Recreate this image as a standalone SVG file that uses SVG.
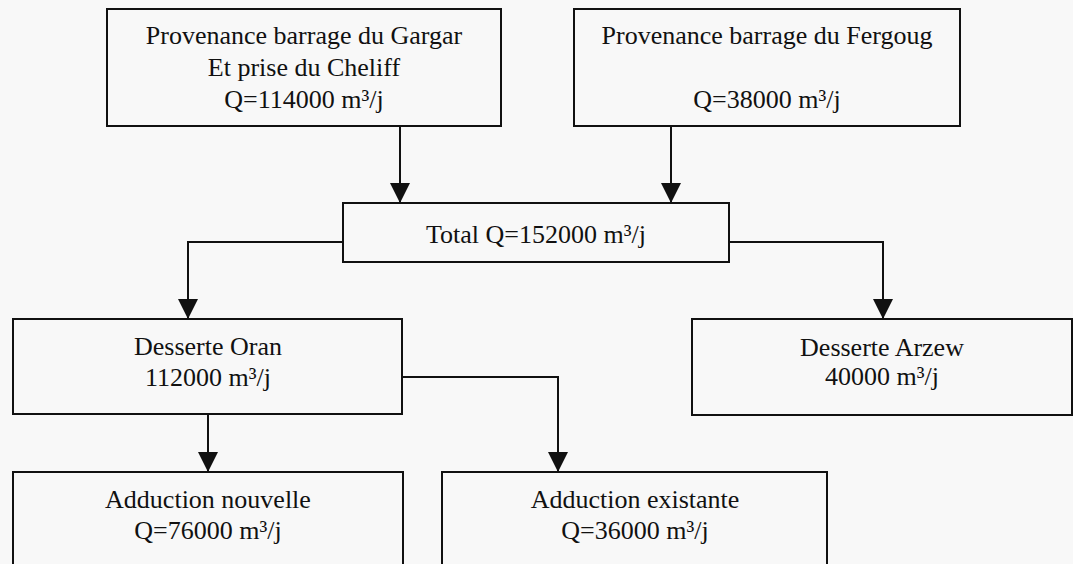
<svg xmlns="http://www.w3.org/2000/svg" width="1073" height="564" viewBox="0 0 1073 564">
  <style>
    .box { fill: #f8f8f8; stroke: #111; stroke-width: 2; }
    .lbl { font-family: "Liberation Serif", "Times New Roman", serif; font-size: 26px; fill: #111; text-anchor: middle; }
    .conn { fill: none; stroke: #111; stroke-width: 2; marker-end: url(#arr); }
  </style>
  <defs>
    <marker id="arr" viewBox="0 0 20 20" refX="20" refY="10" markerWidth="20" markerHeight="21" markerUnits="userSpaceOnUse" orient="auto">
      <path d="M0,0 L20,10 L0,20 Z" fill="#111"/>
    </marker>
  </defs>
  <rect x="0" y="0" width="1073" height="564" fill="#f8f8f8"/>

  <g id="connectors">
    <path class="conn" d="M400,126 V203"/>
    <path class="conn" d="M671,126 V203"/>
    <path class="conn" d="M343,242 H188 V319"/>
    <path class="conn" d="M729,242 H883 V319"/>
    <path class="conn" d="M208,414 V472"/>
    <path class="conn" d="M402,377 H558 V472"/>
  </g>

  <g id="gargar">
    <rect class="box" x="107" y="9" width="394" height="117"/>
    <text class="lbl" x="304" y="44">Provenance barrage du Gargar</text>
    <text class="lbl" x="304" y="76">Et prise du Cheliff</text>
    <text class="lbl" x="304" y="108">Q=114000 m³/j</text>
  </g>

  <g id="fergoug">
    <rect class="box" x="574" y="9" width="386" height="117"/>
    <text class="lbl" x="767" y="44">Provenance barrage du Fergoug</text>
    <text class="lbl" x="767" y="108">Q=38000 m³/j</text>
  </g>

  <g id="total">
    <rect class="box" x="343" y="203" width="386" height="59"/>
    <text class="lbl" x="536" y="243">Total Q=152000 m³/j</text>
  </g>

  <g id="oran">
    <rect class="box" x="13" y="319" width="389" height="95"/>
    <text class="lbl" x="208" y="355">Desserte Oran</text>
    <text class="lbl" x="208" y="386">112000 m³/j</text>
  </g>

  <g id="arzew">
    <rect class="box" x="692" y="319" width="380" height="96"/>
    <text class="lbl" x="882" y="356">Desserte Arzew</text>
    <text class="lbl" x="882" y="385">40000 m³/j</text>
  </g>

  <g id="nouvelle">
    <rect class="box" x="13" y="472" width="390" height="110"/>
    <text class="lbl" x="208" y="508">Adduction nouvelle</text>
    <text class="lbl" x="208" y="539">Q=76000 m³/j</text>
  </g>

  <g id="existante">
    <rect class="box" x="442" y="472" width="385" height="110"/>
    <text class="lbl" x="635" y="508">Adduction existante</text>
    <text class="lbl" x="635" y="539">Q=36000 m³/j</text>
  </g>
</svg>
